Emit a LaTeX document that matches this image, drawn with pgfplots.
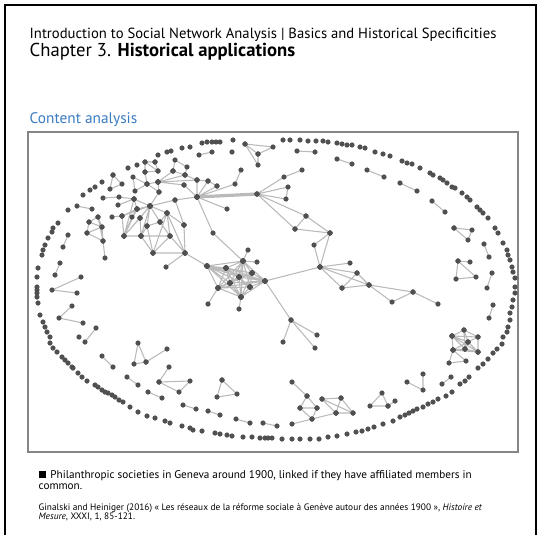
\documentclass[border=0pt]{standalone}
\usepackage{fontspec}
\setmainfont{PT Sans}
\usepackage{pgfplots}
\usepackage{pgfplotstable}
\pgfplotsset{compat=1.18}
\definecolor{NodeGray}{HTML}{505050}
\definecolor{EdgeGray}{HTML}{BABABA}
\definecolor{BoxGray}{HTML}{858585}
\definecolor{HeadBlue}{HTML}{3A7CC2}

% ties between societies, one segment chain per row group, nan breaks the line
\pgfplotstableread[row sep=\\]{
x y\\
245 144\\ 258 154\\ 273 147\\ 245 144\\ 258 165\\ 258 154\\ nan nan\\
199 155\\ 212 152\\ nan nan\\
297 151\\ 315 152\\ nan nan\\
337 159\\ 352 164\\ nan nan\\
367 170\\ 384 177\\ nan nan\\
400 183\\ 417 191\\ nan nan\\
432 201\\ 445 212\\ nan nan\\
454 228\\ 472 230\\ 468 240\\ 454 228\\ nan nan\\
484 244\\ 489 257\\ nan nan\\
470 262\\ 458 261\\ 456 279\\ 476 277\\ 458 261\\ nan nan\\
492 273\\ 487 288\\ nan nan\\
493 305\\ 489 318\\ nan nan\\
452 336\\ 464 330\\ 478 337\\ 478 352\\ 453 350\\ 452 336\\ 468 342\\ 464 330\\ 465 349\\ 452 336\\ 478 337\\ 468 342\\ 478 352\\ 465 349\\ 453 350\\ 468 342\\ 465 349\\ nan nan\\
452 336\\ 478 352\\ nan nan\\
453 350\\ 449 363\\ 466 361\\ 453 350\\ nan nan\\
442 384\\ 451 377\\ nan nan\\
407 382\\ 423 390\\ 423 374\\ nan nan\\
395 401\\ 388 406\\ 370 406\\ 382 393\\ 388 406\\ nan nan\\
353 413\\ 322 399\\ 341 398\\ 336 413\\ 322 399\\ nan nan\\
341 398\\ 353 413\\ 336 413\\ nan nan\\
292 382\\ 307 396\\ 300 408\\ 317 408\\ 307 396\\ nan nan\\
300 408\\ 312 419\\ 317 408\\ nan nan\\
292 424\\ 312 419\\ 336 413\\ nan nan\\
263 423\\ 277 426\\ nan nan\\
236 419\\ 250 423\\ nan nan\\
208 411\\ 220 415\\ nan nan\\
183 405\\ 196 409\\ nan nan\\
222 380\\ 217 397\\ 237 394\\ 222 380\\ nan nan\\
148 392\\ 162 398\\ nan nan\\
169 367\\ 159 382\\ 190 381\\ 179 392\\ 159 382\\ nan nan\\
127 377\\ 138 385\\ nan nan\\
146 362\\ 138 343\\ 134 364\\ 146 362\\ 167 349\\ nan nan\\
102 356\\ 113 367\\ nan nan\\
85 342\\ 96 328\\ nan nan\\
68 235\\ 63 247\\ nan nan\\
60 263\\ 55 275\\ nan nan\\
81 277\\ 52 290\\ 77 293\\ nan nan\\
72 306\\ 59 318\\ 83 323\\ nan nan\\
77 206\\ 92 209\\ nan nan\\
98 217\\ 89 222\\ 102 227\\ 98 217\\ 103 241\\ 87 233\\ 89 222\\ nan nan\\
87 233\\ 102 227\\ 103 241\\ 105 258\\ nan nan\\
155 162\\ 145 162\\ 145 172\\ 158 171\\ 155 162\\ nan nan\\
145 162\\ 158 171\\ nan nan\\
145 172\\ 147 184\\ nan nan\\
113 175\\ 110 189\\ 122 184\\ 113 175\\ nan nan\\
173 171\\ 158 182\\ 185 175\\ 158 182\\ 184 185\\ 158 182\\ 197 180\\ nan nan\\
173 171\\ 175 160\\ 187 167\\ 185 175\\ 173 171\\ nan nan\\
185 175\\ 197 180\\ 208 181\\ 217 186\\ nan nan\\
158 182\\ 147 184\\ 133 177\\ 135 191\\ 147 184\\ 159 192\\ 158 182\\ nan nan\\
184 185\\ 197 197\\ 197 180\\ nan nan\\
197 197\\ 208 181\\ nan nan\\
197 197\\ 217 186\\ nan nan\\
197 197\\ 235 184\\ 241 170\\ nan nan\\
197 197\\ 227 209\\ nan nan\\
197 197\\ 213 233\\ 243 261\\ nan nan\\
197 197\\ 175 200\\ 150 206\\ nan nan\\
159 192\\ 150 206\\ nan nan\\
175 200\\ 184 225\\ nan nan\\
137 209\\ 150 206\\ 122 216\\ 150 206\\ 140 218\\ 150 206\\ 147 226\\ 150 206\\ 124 236\\ 150 206\\ 141 236\\ 150 206\\ 167 213\\ 150 206\\ 134 199\\ 150 206\\ 160 222\\ nan nan\\
137 209\\ 124 236\\ 122 216\\ 137 209\\ 134 199\\ 124 236\\ 132 217\\ 137 209\\ nan nan\\
140 218\\ 124 236\\ 141 236\\ 140 218\\ nan nan\\
141 236\\ 147 226\\ 160 222\\ 167 213\\ nan nan\\
103 198\\ 119 197\\ 134 199\\ 118 205\\ nan nan\\
112 217\\ 122 216\\ nan nan\\
184 225\\ 167 213\\ 170 236\\ 185 253\\ 167 213\\ 153 253\\ 185 253\\ 184 225\\ nan nan\\
170 236\\ 153 253\\ 141 236\\ 170 236\\ 160 222\\ nan nan\\
147 226\\ 153 253\\ nan nan\\
185 253\\ 207 266\\ nan nan\\
166 267\\ 185 253\\ nan nan\\
243 261\\ 207 266\\ 265 281\\ 207 266\\ 241 297\\ 207 266\\ 218 288\\ 207 266\\ 226 268\\ 207 266\\ 239 277\\ 207 266\\ 252 273\\ 207 266\\ 230 283\\ 207 266\\ 250 287\\ nan nan\\
265 281\\ 243 261\\ 241 297\\ 243 261\\ 218 288\\ 243 261\\ 226 268\\ 243 261\\ 239 277\\ 243 261\\ 252 273\\ 243 261\\ 230 283\\ 243 261\\ 250 287\\ nan nan\\
241 297\\ 265 281\\ 218 288\\ 265 281\\ 226 268\\ 265 281\\ 239 277\\ 265 281\\ 252 273\\ 265 281\\ 230 283\\ 265 281\\ 250 287\\ nan nan\\
218 288\\ 241 297\\ 226 268\\ 241 297\\ 239 277\\ 241 297\\ 252 273\\ 241 297\\ 230 283\\ 241 297\\ 250 287\\ nan nan\\
226 268\\ 218 288\\ 239 277\\ 218 288\\ 252 273\\ 218 288\\ 230 283\\ 218 288\\ 250 287\\ nan nan\\
239 277\\ 226 268\\ 252 273\\ 226 268\\ 230 283\\ 226 268\\ 250 287\\ nan nan\\
252 273\\ 239 277\\ 230 283\\ 239 277\\ 250 287\\ nan nan\\
230 283\\ 252 273\\ 250 287\\ nan nan\\
248 250\\ 243 261\\ 257 262\\ nan nan\\
208 304\\ 218 288\\ nan nan\\
239 309\\ 241 297\\ nan nan\\
320 267\\ 265 281\\ 291 320\\ 283 342\\ nan nan\\
317 335\\ 291 320\\ 315 348\\ nan nan\\
302 170\\ 284 177\\ 257 194\\ 288 187\\ 286 199\\ 257 194\\ 306 216\\ 295 229\\ 257 194\\ nan nan\\
306 216\\ 330 233\\ 295 229\\ nan nan\\
330 233\\ 314 245\\ 320 267\\ 330 233\\ nan nan\\
350 263\\ 320 267\\ 357 273\\ 342 288\\ 320 267\\ 369 285\\ 342 288\\ nan nan\\
357 273\\ 369 285\\ 392 302\\ 413 292\\ 369 285\\ nan nan\\
413 292\\ 438 304\\
}\ties

% societies without ties (outer ring)
\pgfplotstableread[row sep=\\]{
x y\\
50 337\\ 47 332\\ 45 327\\ 43 322\\ 40 315\\ 38 303\\ 37 297\\ 37 293\\ 37 290\\ 37 287\\ 37 277\\ 38 268\\
42 255\\ 43 250\\ 45 245\\ 48 238\\ 52 232\\ 53 228\\ 58 223\\ 68 210\\ 83 195\\ 90 190\\ 95 187\\ 102 182\\
128 168\\ 137 165\\ 158 155\\ 167 152\\ 171 151\\ 182 148\\ 190 147\\ 202 143\\ 207 142\\ 212 142\\ 216 142\\
220 142\\ 233 140\\ 232 152\\ 283 140\\ 290 140\\ 300 140\\ 308 141\\ 316 141\\
323 141\\ 328 142\\ 337 143\\ 342 144\\ 347 145\\ 352 145\\ 360 147\\ 365 148\\ 375 152\\ 383 154\\ 390 156\\
402 161\\ 407 163\\ 412 164\\ 420 168\\ 430 173\\ 433 175\\ 440 178\\ 443 180\\ 447 183\\ 452 187\\ 455 188\\
462 193\\ 467 197\\ 470 200\\ 477 207\\ 480 210\\ 483 213\\ 488 218\\ 495 228\\ 498 233\\ 503 243\\ 507 250\\
508 255\\ 510 260\\ 512 267\\ 513 272\\ 515 278\\ 515 287\\ 515 293\\ 513 300\\ 512 307\\ 510 313\\ 510 320\\
508 327\\ 507 332\\ 503 337\\
502 344\\ 497 349\\ 493 353\\ 488 359\\ 483 364\\ 478 368\\ 469 377\\ 465 381\\ 460 384\\ 452 392\\ 446 396\\
438 399\\ 433 402\\ 428 404\\ 423 407\\ 417 409\\ 413 411\\ 409 413\\ 405 415\\ 400 417\\ 393 421\\ 383 424\\
374 427\\ 368 429\\ 362 431\\ 356 432\\ 347 434\\ 337 436\\ 328 437\\ 319 439\\ 310 439\\ 300 439\\ 292 439\\
282 439\\ 272 438\\ 268 438\\ 265 438\\ 260 438\\
252 437\\ 243 437\\ 232 436\\ 227 435\\ 220 434\\ 215 433\\ 202 431\\ 193 430\\ 190 428\\ 182 426\\ 170 423\\
165 421\\ 155 418\\ 147 416\\ 138 412\\ 130 407\\ 123 402\\ 119 400\\ 115 397\\ 112 395\\ 108 393\\ 105 392\\
102 390\\ 98 387\\ 95 385\\ 87 381\\ 82 377\\ 78 373\\ 73 368\\ 72 367\\ 68 363\\ 65 360\\ 62 357\\ 57 352\\
53 348\\ 50 343\\ 79 337\\
}\isolated

\begin{document}
\begin{tikzpicture}
\begin{axis}[
  width=404.25pt,height=401.25pt,scale only axis,
  xmin=0,xmax=539,ymin=0,ymax=535,y dir=reverse,
  axis lines=none,clip=false,unbounded coords=jump
]
% page, frame and picture box
\fill[white] (axis cs:0,0) rectangle (axis cs:539,535);
\draw[line width=2.2pt,black] (axis cs:5,535) -- (axis cs:5,5) -- (axis cs:536,5) -- (axis cs:536,535);
\draw[line width=1.1pt,BoxGray] (axis cs:28,132) rectangle (axis cs:518,452);

% heading
\node[anchor=base west,font=\fontsize{11}{12}\selectfont] at (axis cs:25,38)
  {Introduction to Social Network Analysis | Basics and Historical Specificities};
\node[anchor=base west,font=\fontsize{14}{15}\selectfont] at (axis cs:25,56)
  {Chapter 3. \textbf{Historical applications}};
\node[anchor=base west,font=\fontsize{11.5}{13}\selectfont,text=HeadBlue] at (axis cs:25,123)
  {Content analysis};

% caption
\node[anchor=base west,font=\fontsize{8.4}{9}\selectfont] at (axis cs:34,478)
  {\rule{5.3pt}{5.3pt}\hspace{3.5pt}Philanthropic societies in Geneva around 1900, linked if they have affiliated members in};
\node[anchor=base west,font=\fontsize{8.4}{9}\selectfont] at (axis cs:34,489)
  {common.};
\node[anchor=base west,font=\fontsize{7}{8}\selectfont] at (axis cs:34,510)
  {Ginalski and Heiniger (2016) « Les réseaux de la réforme sociale à Genève autour des années 1900 », \textit{Histoire et}};
\node[anchor=base west,font=\fontsize{7}{8}\selectfont] at (axis cs:34,519.5)
  {\textit{Mesure}, XXXI, 1, 85-121.};

% strong tie between the two hubs
\addplot[EdgeGray,line width=2.4pt] coordinates {(197,197)(257,194)};

% ties, then the societies on top of them
\addplot[EdgeGray,line width=0.8pt,no marks] table {\ties};
\addplot[NodeGray,only marks,mark=*,mark size=1.7pt,mark options={fill=NodeGray,draw=none}] table {\ties};
\addplot[NodeGray,only marks,mark=*,mark size=1.7pt,mark options={fill=NodeGray,draw=none}] table {\isolated};
\end{axis}
\end{tikzpicture}
\end{document}
